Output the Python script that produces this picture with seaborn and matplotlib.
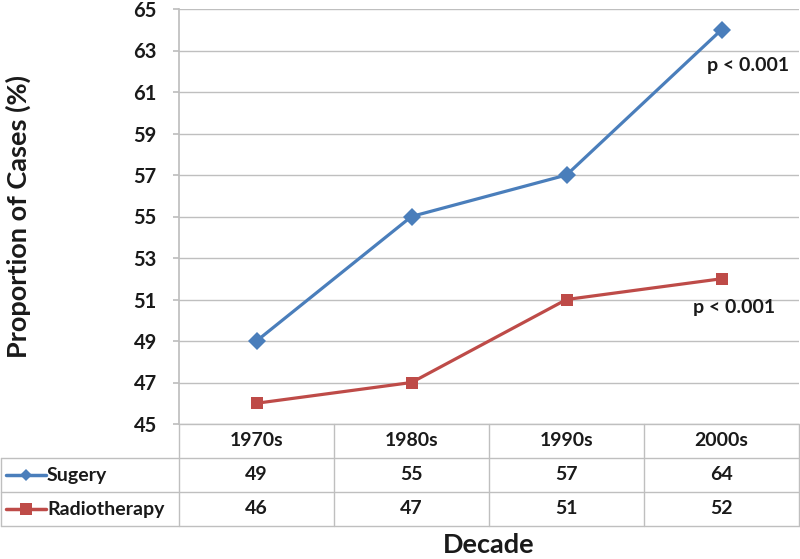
import numpy as np
import pandas as pd
import matplotlib
matplotlib.use('Agg')
import matplotlib.pyplot as plt
import seaborn as sns

# chart values
decades = ['1970s', '1980s', '1990s', '2000s']
surgery = [49, 55, 57, 64]
radiotherapy = [46, 47, 51, 52]
series_names = ['Sugery', 'Radiotherapy']
y_ticks = list(range(45, 66, 2))
p_labels = ['p < 0.001', 'p < 0.001']

BLUE = '#4A7EBB'
RED = '#BE4B48'
GRID = '#BFBFBF'
TEXT = '#1a1a1a'

sns.set_theme(style='white')
plt.rcParams['font.family'] = ['Lato', 'DejaVu Sans']
plt.rcParams['font.weight'] = 'bold'

df = pd.DataFrame({
    'Decade': decades * 2,
    'Value': surgery + radiotherapy,
    'Series': [series_names[0]] * 4 + [series_names[1]] * 4,
})

W, H = 800, 559
fig = plt.figure(figsize=(W / 100, H / 100), dpi=100)
ax_left, ax_right, ax_top, ax_bot = 179, 799, 9, 424
ax = fig.add_axes([ax_left / W, (H - ax_bot) / H, (ax_right - ax_left) / W, (ax_bot - ax_top) / H])

sns.lineplot(data=df, x='Decade', y='Value', hue='Series', style='Series',
             palette=[BLUE, RED], markers=['D', 's'], dashes=False,
             markersize=9, linewidth=2.3, markeredgewidth=0, legend=False, ax=ax)

ax.set_xlim(-0.5, 3.5)
ax.set_ylim(45, 65)
ax.set_yticks(y_ticks)
ax.set_yticklabels([str(t) for t in y_ticks], fontsize=14.5, fontweight='bold', color=TEXT)
ax.set_xticks([])
ax.set_xlabel('')
ax.set_ylabel('Proportion of Cases (%)', fontsize=19.5, fontweight='bold', color=TEXT, va='center')
ax.yaxis.set_label_coords((18 - ax_left) / (ax_right - ax_left), 0.5)
ax.yaxis.grid(True, color=GRID, linewidth=1)
ax.tick_params(axis='y', length=4, color=GRID, pad=12, left=True)
for side in ['top', 'right', 'bottom']:
    ax.spines[side].set_visible(False)
ax.spines['left'].set_color(GRID)

# p-value notes
ax.text(3.17, 62.3, p_labels[0], ha='center', va='center', fontsize=14, fontweight='bold', color=TEXT)
ax.text(3.08, 50.6, p_labels[1], ha='center', va='center', fontsize=14, fontweight='bold', color=TEXT)

# data table under the plot
tab_bot = 526
tab = fig.add_axes([ax_left / W, (H - tab_bot) / H, (ax_right - ax_left) / W, (tab_bot - ax_bot) / H])
tab.set_xlim(-0.5, 3.5)
tab.set_ylim(3, 0)
tab.axis('off')
unit = (ax_right - ax_left) / 4
left_edge = -0.5 - (ax_left - 1) / unit

lw = 1
for y in [0, 1, 2, 3]:
    x0 = -0.5 if y == 0 else left_edge
    tab.plot([x0, 3.5], [y, y], color=GRID, lw=lw, clip_on=False)
for x in [-0.5, 0.5, 1.5, 2.5, 3.5]:
    tab.plot([x, x], [0, 3], color=GRID, lw=lw, clip_on=False)
tab.plot([left_edge, left_edge], [1, 3], color=GRID, lw=lw, clip_on=False)

cell_fs = 14
for i, d in enumerate(decades):
    tab.text(i, 0.5, d, ha='center', va='center', fontsize=cell_fs, fontweight='bold', color=TEXT)
    tab.text(i, 1.5, str(surgery[i]), ha='center', va='center', fontsize=cell_fs, fontweight='bold', color=TEXT)
    tab.text(i, 2.5, str(radiotherapy[i]), ha='center', va='center', fontsize=cell_fs, fontweight='bold', color=TEXT)

# legend keys inside the row labels
key_x0 = left_edge + 5 / unit
key_x1 = left_edge + 45 / unit
for row, (name, col, mk, ms) in enumerate(zip(series_names, [BLUE, RED], ['D', 's'], [6, 9])):
    y = row + 1.5
    tab.plot([key_x0, key_x1], [y, y], color=col, lw=2.5, clip_on=False)
    tab.plot([(key_x0 + key_x1) / 2], [y], marker=mk, color=col, markersize=ms, mew=0, clip_on=False)
    tab.text(key_x1 + 1 / unit, y, name, ha='left', va='center', fontsize=cell_fs, fontweight='bold', color=TEXT)

fig.text((ax_left + ax_right) / 2 / W, 1 - 545 / H, 'Decade', ha='center', va='center',
         fontsize=19.5, fontweight='bold', color=TEXT)

fig.savefig('out.png', dpi=100)
